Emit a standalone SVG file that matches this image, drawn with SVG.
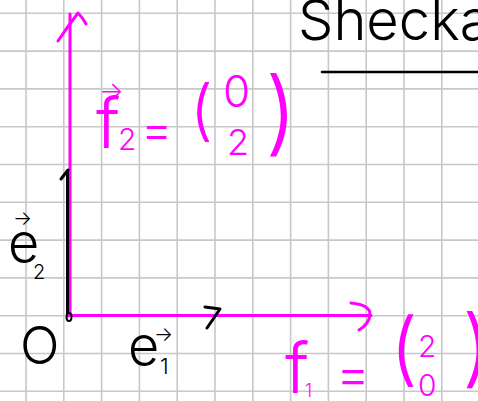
<svg xmlns="http://www.w3.org/2000/svg" width="478" height="401" viewBox="0 0 478 401">
<style>
.grid line{stroke:#c8c8c8;stroke-width:1.6}
.mag{stroke:#ff00ff;stroke-width:3;fill:none;stroke-linecap:round;stroke-linejoin:round}
.blk{stroke:#000;stroke-width:3;fill:none;stroke-linecap:round;stroke-linejoin:round}
text{font-family:Inter,"Open Sans","Liberation Sans",sans-serif;font-weight:350}
.tm{fill:#ff00ff}
.tb{fill:#000}
</style>
<rect width="478" height="401" fill="#fff"/>
<g class="grid" id="grid">
<line x1="26" y1="0" x2="26" y2="401"/>
<line x1="63.8" y1="0" x2="63.8" y2="401"/>
<line x1="101.6" y1="0" x2="101.6" y2="401"/>
<line x1="139.4" y1="0" x2="139.4" y2="401"/>
<line x1="177.2" y1="0" x2="177.2" y2="401"/>
<line x1="215" y1="0" x2="215" y2="401"/>
<line x1="252.8" y1="0" x2="252.8" y2="401"/>
<line x1="290.6" y1="0" x2="290.6" y2="401"/>
<line x1="328.4" y1="0" x2="328.4" y2="401"/>
<line x1="366.2" y1="0" x2="366.2" y2="401"/>
<line x1="404" y1="0" x2="404" y2="401"/>
<line x1="441.8" y1="0" x2="441.8" y2="401"/>
<line x1="0" y1="13.3" x2="478" y2="13.3"/>
<line x1="0" y1="51.1" x2="478" y2="51.1"/>
<line x1="0" y1="88.9" x2="478" y2="88.9"/>
<line x1="0" y1="126.7" x2="478" y2="126.7"/>
<line x1="0" y1="164.5" x2="478" y2="164.5"/>
<line x1="0" y1="202.3" x2="478" y2="202.3"/>
<line x1="0" y1="240.1" x2="478" y2="240.1"/>
<line x1="0" y1="277.9" x2="478" y2="277.9"/>
<line x1="0" y1="315.7" x2="478" y2="315.7"/>
<line x1="0" y1="353.5" x2="478" y2="353.5"/>
<line x1="0" y1="391.3" x2="478" y2="391.3"/>
</g>
<g id="connectors">
<g id="f2-vector">
<line class="mag" x1="70" y1="14" x2="70" y2="315"/>
<path class="mag" d="M58,41 Q68,26 78,13 Q83,18 86,24"/>
</g>
<g id="e2-vector">
<line class="blk" x1="67.5" y1="172" x2="67.5" y2="316"/>
<path class="blk" d="M61,179 L68,170"/>
</g>
<g id="f1-vector">
<line class="mag" x1="68" y1="315.5" x2="371" y2="315.5"/>
<path class="mag" d="M351,303 Q371,305 370,315 Q369,324 359,330"/>
</g>
<g id="e1-vector">
<path class="blk" d="M205,307 L220,309 L207,328"/>
</g>
<ellipse cx="69" cy="317" rx="2.5" ry="4" class="blk" style="stroke-width:2"/>
</g>
<g id="title">
<text class="tb" x="298" y="40" font-size="56">Shecka</text>
<line class="blk" x1="322" y1="72" x2="478" y2="72" style="stroke-width:2.5"/>
</g>
<g id="origin">
<text class="tb" x="20" y="364" font-size="52">O</text>
</g>
<g id="e2-label">
<text class="tb" x="13" y="225" font-size="20">→</text>
<text class="tb" x="8" y="262" font-size="54">e</text>
<text class="tb" x="33" y="279" font-size="20">2</text>
</g>
<g id="e1-label">
<text class="tb" x="154" y="341" font-size="20">→</text>
<text class="tb" x="128" y="365" font-size="54">e</text>
<text class="tb" x="160" y="374" font-size="22">1</text>
</g>
<g id="f2-label">
<text class="tm" x="99" y="100" font-size="26">→</text>
<text class="tm" x="96" y="148" font-size="70">f</text>
<text class="tm" x="118" y="150" font-size="30">2</text>
<text class="tm" x="141" y="146" font-size="48">=</text>
<text class="tm" x="190" y="133" font-size="66">(</text>
<text class="tm" x="223" y="107" font-size="44">0</text>
<text class="tm" x="227" y="155" font-size="36">2</text>
<text class="tm" x="265" y="144" font-size="92">)</text>
</g>
<g id="f1-label">
<text class="tm" x="285" y="393" font-size="70">f</text>
<text class="tm" x="305" y="397" font-size="18">1</text>
<text class="tm" x="336" y="392" font-size="52">=</text>
<text class="tm" x="390" y="376" font-size="80">(</text>
<text class="tm" x="418" y="357" font-size="30">2</text>
<text class="tm" x="418" y="396" font-size="30">0</text>
<text class="tm" x="462" y="377" font-size="85">)</text>
</g>
</svg>
